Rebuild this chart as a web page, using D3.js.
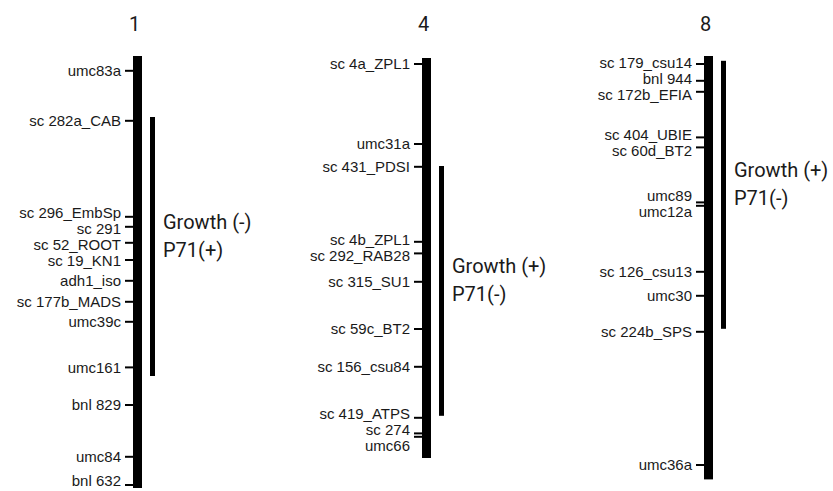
<!DOCTYPE html>
<html>
<head>
<meta charset="utf-8">
<script src="https://cdn.jsdelivr.net/npm/d3@7"></script>
<style>
  body { margin: 0; background: #fff; }
  text { fill: #1a1a1a; }
  .marker { font-family: "Liberation Sans", Arial, sans-serif; font-size: 15px; }
  .qtl-label { font-family: Roboto, "Liberation Sans", sans-serif; font-size: 20px; }
  .chrom-title { font-family: Roboto, "Liberation Sans", sans-serif; font-size: 20px; }
</style>
</head>
<body>
<div id="map"></div>
<script>
// chromosomes and their extent (cM)
var chromosomes = ["1", "4", "8"];
var chromStart = [0, 1, 0];
var chromEnd = [216, 201, 211.7];

// markers per chromosome (name, position in cM)
var markers1 = ["umc83a", "sc 282a_CAB", "sc 296_EmbSp", "sc 291", "sc 52_ROOT", "sc 19_KN1",
  "adh1_iso", "sc 177b_MADS", "umc39c", "umc161", "bnl 829", "umc84", "bnl 632"];
var pos1 = [7.4, 32.4, 80.4, 85.4, 93.4, 102, 112.4, 122.9, 132.9, 155.7, 174.5, 200.4, 214.5];

var markers4 = ["sc 4a_ZPL1", "umc31a", "sc 431_PDSI", "sc 4b_ZPL1", "sc 292_RAB28", "sc 315_SU1",
  "sc 59c_BT2", "sc 156_csu84", "sc 419_ATPS", "sc 274", "umc66"];
var pos4 = [4, 44, 55.4, 92.9, 98.7, 112.9, 136.5, 155.4, 180.9, 188.7, 190.4];

var markers8 = ["sc 179_csu14", "bnl 944", "sc 172b_EFIA", "sc 404_UBIE", "sc 60d_BT2", "umc89",
  "umc12a", "sc 126_csu13", "umc30", "sc 224b_SPS", "umc36a"];
var pos8 = [4, 12.4, 17.9, 40.7, 45.7, 73.2, 74.9, 107.9, 119.9, 137.9, 204.5];

// QTL intervals (cM) and their labels
var qtlStart = [30.5, 55, 2.4];
var qtlEnd = [160, 179.9, 136.4];
var qtlTrait = ["Growth (-)", "Growth (+)", "Growth (+)"];
var qtlP71 = ["P71(+)", "P71(-)", "P71(-)"];

var svgWidth = 833;
var svgHeight = 491;

var markerNames = [markers1, markers4, markers8];
var markerPos = [pos1, pos4, pos8];

var svg = d3.select("#map")
  .append("svg")
  .attr("width", svgWidth)
  .attr("height", svgHeight);

// x: centre of each chromosome, y: map distance
var xScale = d3.scaleOrdinal()
  .domain(chromosomes)
  .range([137.5, 426.5, 708.5]);

var yScale = d3.scaleLinear()
  .domain([0, 216])
  .range([56, 488]);

var barW = 9;
var qtlW = 5;
var tickLen = 8;

// push labels apart so they don't overlap, keep them inside the picture
function spread(ys, gap, maxY) {
  var out = ys.slice();
  for (var k = 0; k < 200; k++) {
    for (var i = 1; i < out.length; i++) {
      var d = out[i] - out[i - 1];
      if (d < gap) {
        var s = (gap - d) / 2;
        out[i - 1] -= s;
        out[i] += s;
      }
    }
    var last = out.length - 1;
    if (out[last] > maxY) out[last] = maxY;
  }
  return out;
}

chromosomes.forEach(function(chr, ci) {
  var cx = xScale(chr);
  var g = svg.append("g");

  g.append("text")
    .attr("class", "chrom-title")
    .attr("x", cx - 3)
    .attr("y", 31)
    .attr("text-anchor", "middle")
    .text(chr);

  // chromosome bar
  g.append("rect")
    .attr("x", cx - barW / 2)
    .attr("y", yScale(chromStart[ci]))
    .attr("width", barW)
    .attr("height", yScale(chromEnd[ci]) - yScale(chromStart[ci]))
    .attr("fill", "#000");

  // QTL bar
  var qx = cx + barW / 2 + 8;
  g.append("rect")
    .attr("x", qx)
    .attr("y", yScale(qtlStart[ci]))
    .attr("width", qtlW)
    .attr("height", yScale(qtlEnd[ci]) - yScale(qtlStart[ci]))
    .attr("fill", "#000");

  var mid = (yScale(qtlStart[ci]) + yScale(qtlEnd[ci])) / 2;
  g.append("text")
    .attr("class", "qtl-label")
    .attr("x", qx + qtlW + 8)
    .attr("y", mid - 18)
    .text(qtlTrait[ci]);
  g.append("text")
    .attr("class", "qtl-label")
    .attr("x", qx + qtlW + 8)
    .attr("y", mid + 10)
    .text(qtlP71[ci]);

  // marker ticks
  var data = markerNames[ci].map(function(n, i) {
    return { name: n, pos: markerPos[ci][i] };
  });
  var left = cx - barW / 2;

  g.selectAll("line.tick")
    .data(data)
    .enter()
    .append("line")
    .attr("x1", left - tickLen)
    .attr("x2", left)
    .attr("y1", d => yScale(d.pos))
    .attr("y2", d => yScale(d.pos))
    .attr("stroke", "#000")
    .attr("stroke-width", 2);

  var labelY = spread(data.map(d => yScale(d.pos)), 16, svgHeight - 10);

  g.selectAll("text.marker")
    .data(data)
    .enter()
    .append("text")
    .attr("class", "marker")
    .attr("x", left - tickLen - 4)
    .attr("y", (d, i) => labelY[i])
    .attr("dy", "0.35em")
    .attr("text-anchor", "end")
    .text(d => d.name);
});
</script>
</body>
</html>
